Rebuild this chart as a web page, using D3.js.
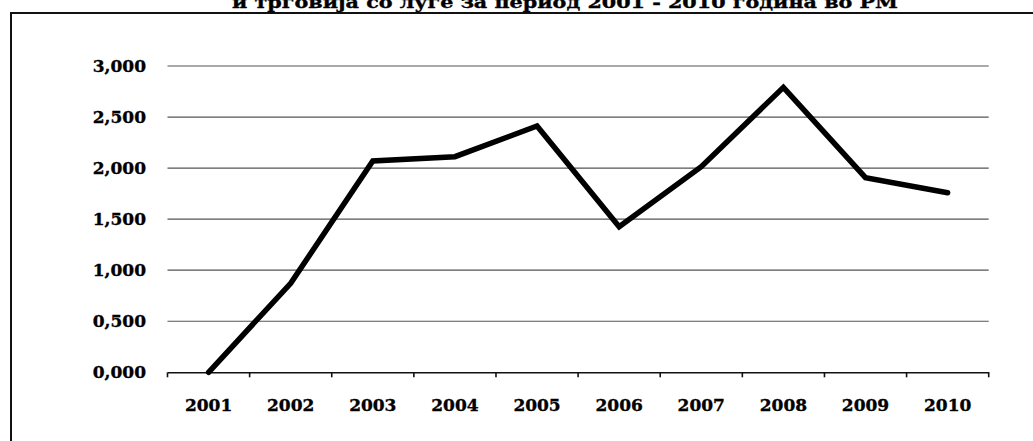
<!DOCTYPE html>
<html>
<head>
<meta charset="utf-8">
<script src="https://cdn.jsdelivr.net/npm/d3@7"></script>
<style>
  html, body { margin: 0; padding: 0; background: #fff; }
  svg { display: block; }
  text { font-family: "DejaVu Serif", "Liberation Serif", serif; font-weight: bold; fill: #000; stroke: #000; stroke-width: 0.35px; }
</style>
</head>
<body>
<svg id="chart" width="1033" height="441"></svg>
<script>
const titleText = "и трговија со луѓе за период 2001 - 2010 година во РМ";
const years = ["2001","2002","2003","2004","2005","2006","2007","2008","2009","2010"];
const values = [0.0, 0.872, 2.07, 2.112, 2.412, 1.426, 2.014, 2.791, 1.906, 1.759];
const yTicks = [0, 0.5, 1, 1.5, 2, 2.5, 3];

const svg = d3.select("#chart");
const plotL = 167.5, plotR = 988.7, plotT = 66, plotB = 372.3;

// outer border (chart frame cut off at right/bottom)
svg.append("rect")
  .attr("x", 11).attr("y", 13)
  .attr("width", 1200).attr("height", 600)
  .attr("fill", "none").attr("stroke", "#111").attr("stroke-width", 2);

// title (partially cut off at top, as in the reference)
svg.append("text")
  .attr("x", 565).attr("y", 7.5)
  .attr("text-anchor", "middle")
  .attr("font-size", 17)
  .attr("textLength", 666)
  .attr("lengthAdjust", "spacingAndGlyphs")
  .text(titleText);

const x = d3.scaleBand().domain(years).range([plotL, plotR]).padding(0);
const y = d3.scaleLinear().domain([0, 3]).range([plotB, plotT]);

const locale = d3.formatLocale({decimal: ",", thousands: ".", grouping: [3], currency: ["", ""]});
const fmt = locale.format(".3f");

// gridlines
svg.append("g")
  .selectAll("line")
  .data(yTicks.filter(d => d > 0))
  .join("line")
  .attr("x1", plotL).attr("x2", plotR)
  .attr("y1", d => y(d)).attr("y2", d => y(d))
  .attr("stroke", "#555").attr("stroke-width", 1.2);

// y labels
svg.append("g")
  .selectAll("text")
  .data(yTicks)
  .join("text")
  .attr("x", 146)
  .attr("y", d => y(d))
  .attr("dy", "0.36em")
  .attr("text-anchor", "end")
  .attr("font-size", 17)
  .text(d => fmt(d));

// x axis
const xAxis = d3.axisBottom(x).tickSize(0).tickFormat("");
const gx = svg.append("g").attr("transform", `translate(0,${plotB})`).call(xAxis);
gx.select(".domain").attr("stroke", "#111").attr("stroke-width", 1.6);
// boundary ticks
const boundaries = years.map(d => x(d)).concat([x(years[years.length-1]) + x.bandwidth()]);
gx.selectAll("line.bt")
  .data(boundaries)
  .join("line")
  .attr("class", "bt")
  .attr("x1", d => d).attr("x2", d => d)
  .attr("y1", 0).attr("y2", 5)
  .attr("stroke", "#111").attr("stroke-width", 1.6);

// x labels
svg.append("g")
  .selectAll("text")
  .data(years)
  .join("text")
  .attr("x", d => x(d) + x.bandwidth() / 2)
  .attr("y", 411)
  .attr("text-anchor", "middle")
  .attr("font-size", 17)
  .text(d => d);

// line
const line = d3.line()
  .x((d, i) => x(years[i]) + x.bandwidth() / 2)
  .y(d => y(d));
svg.append("path")
  .datum(values)
  .attr("d", line)
  .attr("fill", "none")
  .attr("stroke", "#000")
  .attr("stroke-width", 5.5)
  .attr("stroke-linejoin", "miter")
  .attr("stroke-linecap", "round");
</script>
</body>
</html>
